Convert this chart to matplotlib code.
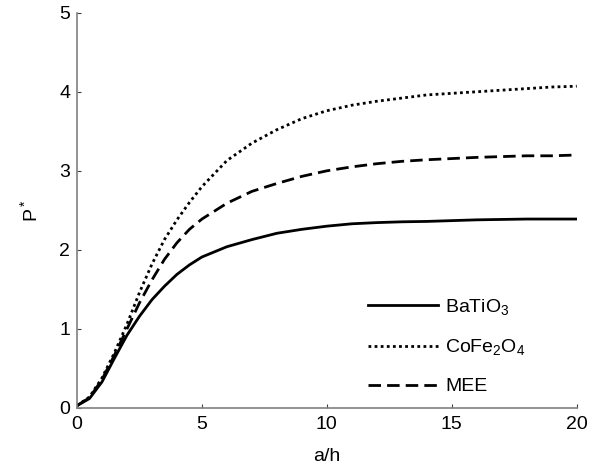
import numpy as np
import matplotlib
matplotlib.use("Agg")
import matplotlib.pyplot as plt

plt.rcParams['font.family'] = ['Liberation Sans', 'DejaVu Sans']
plt.rcParams['mathtext.fontset'] = 'custom'
plt.rcParams['mathtext.rm'] = 'Liberation Sans'
plt.rcParams['mathtext.it'] = 'Liberation Sans:italic'
plt.rcParams['mathtext.bf'] = 'Liberation Sans:bold'

a_h = [0, 0.5, 1, 1.5, 2, 2.5, 3, 3.5, 4, 4.5, 5, 6, 7, 8, 9, 10,
       11, 12, 13, 14, 15, 16, 17, 18, 19, 20]
batio3 = [0.03, 0.12, 0.33, 0.63, 0.92, 1.16, 1.37, 1.54, 1.69, 1.81, 1.91,
          2.04, 2.13, 2.21, 2.26, 2.30, 2.33, 2.345, 2.355, 2.36, 2.37, 2.38,
          2.385, 2.39, 2.39, 2.39]
cofe2o4 = [0.03, 0.14, 0.38, 0.70, 1.06, 1.46, 1.82, 2.13, 2.38, 2.60, 2.80,
           3.13, 3.35, 3.52, 3.66, 3.76, 3.83, 3.88, 3.92, 3.96, 3.98, 4.00,
           4.02, 4.04, 4.06, 4.07]
mee = [0.03, 0.13, 0.36, 0.67, 1.00, 1.33, 1.62, 1.88, 2.09, 2.26, 2.39,
       2.59, 2.74, 2.84, 2.93, 3.00, 3.05, 3.09, 3.12, 3.14, 3.155, 3.17,
       3.18, 3.19, 3.19, 3.20]
labels = ['BaTiO$_3$', 'CoFe$_2$O$_4$', 'MEE']
xticks = [0, 5, 10, 15, 20]
yticks = [0, 1, 2, 3, 4, 5]

FS = 14

fig = plt.figure(figsize=(5.95, 4.67), dpi=100)
ax = fig.add_axes([77/595, 1 - 408/467, (576.7 - 77)/595, (408 - 12.7)/467])

ax.plot(a_h, batio3, color='black', lw=2.0, ls='-', label=labels[0])
ax.plot(a_h, cofe2o4, color='black', lw=2.0, ls=(0, (1, 1.2)), label=labels[1])
ax.plot(a_h, mee, color='black', lw=2.0, ls=(0, (4.5, 2.2)), label=labels[2])

ax.set_xlim(0, 20)
ax.set_ylim(0, 5)
ax.set_xticks(xticks)
ax.set_yticks(yticks)
for s in ['top', 'right']:
    ax.spines[s].set_visible(False)
for s in ['left', 'bottom']:
    ax.spines[s].set_color('#808080')
    ax.spines[s].set_linewidth(1.2)
ax.tick_params(axis='both', direction='in', length=3, width=0.8, color='#404040',
               labelsize=FS, labelcolor='black')
ax.tick_params(axis='x', pad=6)
ax.tick_params(axis='y', pad=5)

ax.set_xlabel('a/h', fontsize=FS, labelpad=10.5)
ax.set_ylabel('P$^*$', fontsize=FS, labelpad=13)

leg = ax.legend(loc='upper left', bbox_to_anchor=(367.7/595, 1 - 297/467),
                bbox_transform=fig.transFigure, frameon=False, fontsize=FS,
                handlelength=3.6, handletextpad=0.4, labelspacing=1.05,
                borderpad=0, borderaxespad=0)

fig.savefig('out.png', dpi=100)
